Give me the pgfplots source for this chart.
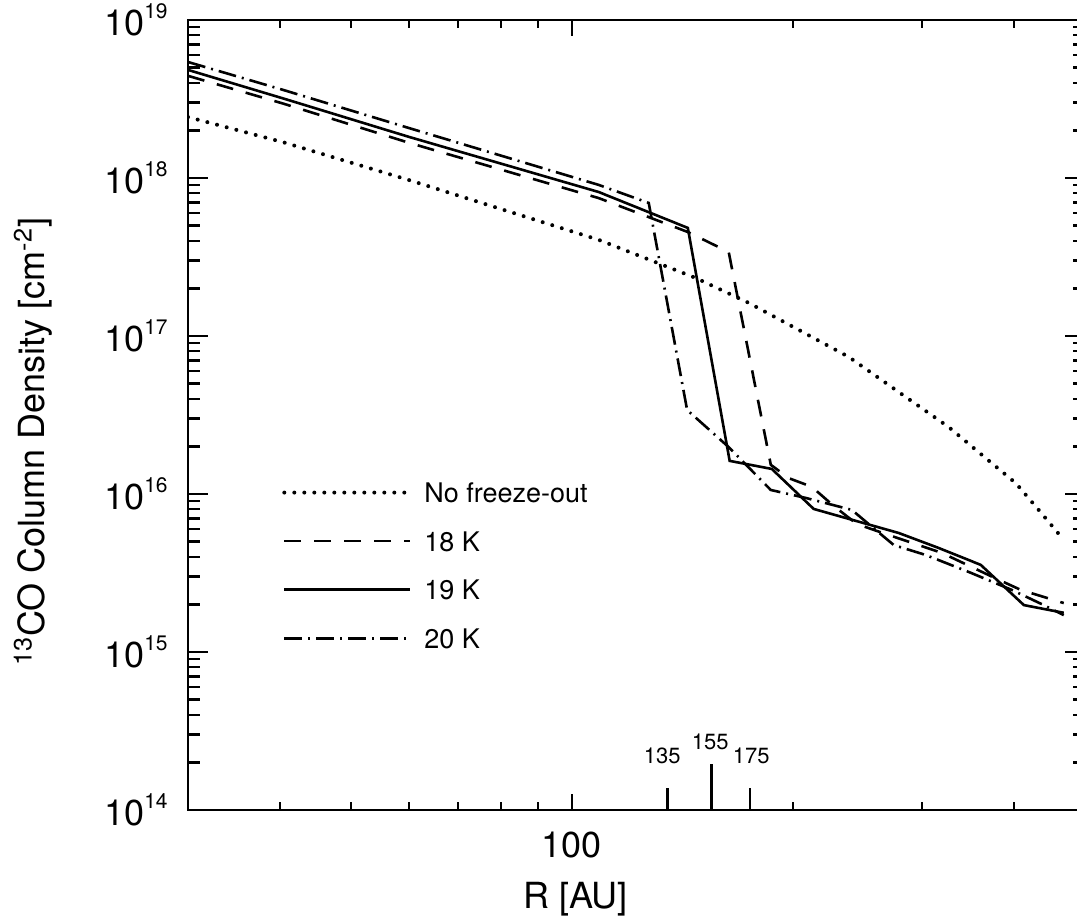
\documentclass[border=0pt]{standalone}
\usepackage{fontspec}
\setmainfont{TeX Gyre Heros}
\usepackage{pgfplots}
\usepackage{pgfplotstable}
\pgfplotsset{compat=1.18}
\newcommand\supx[1]{\raisebox{8.5pt}{\fontsize{10.5}{11}\selectfont #1}}

\pgfplotstableread{
x y
30 2.43e18
40.5 1.68e18
60 9.70e17
108.8 4.06e17
147.5 2.33e17
174.2 1.62e17
238.5 7.36e16
285.1 4.11e16
326.3 2.65e16
361.9 1.77e16
402.7 1.17e16
432.6 7.93e15
468 5.12e15
}\nofreeze

\pgfplotstableread{
x y
30 4.43e18
40.5 2.95e18
60 1.67e18
108.8 7.46e17
143.9 4.55e17
163.6 3.40e17
186.7 1.53e16
197.5 1.26e16
212.3 1.11e16
227.5 8.39e15
244.5 6.46e15
265.3 5.66e15
319.2 4.24e15
377.0 2.94e15
409.1 2.47e15
468 2.04e15
}\eighteen

\pgfplotstableread{
x y
30 4.83e18
40.5 3.18e18
60 1.82e18
108.8 8.15e17
143.9 4.83e17
164.1 1.62e16
187.3 1.44e16
213.6 8.04e15
279.0 5.66e15
316.2 4.55e15
360.7 3.56e15
413.0 1.98e15
468 1.77e15
}\nineteen

\pgfplotstableread{
x y
30 5.42e18
40.5 3.60e18
60 2.07e18
108.8 9.04e17
127.3 6.95e17
143.6 3.40e16
163.6 1.98e16
186.7 1.06e16
208.3 9.44e15
240.7 7.93e15
274.6 4.75e15
303.5 4.11e15
347.4 3.21e15
397.7 2.47e15
439.6 1.98e15
468 1.71e15
}\twenty

\begin{document}
\begin{tikzpicture}
\useasboundingbox (0,0) rectangle (538.5pt,458.5pt);
\clip (0,0) rectangle (538.5pt,458.5pt);
\begin{loglogaxis}[
  at={(94pt,53.5pt)}, anchor=south west,
  scale only axis, width=448.4pt, height=395pt,
  xmin=30, xmax=500, ymin=1e14, ymax=1e19,
  axis line style={line width=1.2pt},
  tick style={line width=1.1pt, black},
  tick align=inside,
  xtick pos=both, ytick pos=both,
  major tick length=10pt, minor tick length=6pt,
  xtick style={/pgfplots/major tick length=8pt, /pgfplots/minor tick length=4pt},
  xtick={100}, xticklabels={100},
  minor xtick={40,50,60,70,80,90,200,300,400},
  ytick={1e14,1e15,1e16,1e17,1e18,1e19},
  yticklabels={10\supx{14},10\supx{15},10\supx{16},10\supx{17},10\supx{18},10\supx{19}},
  minor ytick={2e14,3e14,4e14,5e14,6e14,7e14,8e14,9e14,
               2e15,3e15,4e15,5e15,6e15,7e15,8e15,9e15,
               2e16,3e16,4e16,5e16,6e16,7e16,8e16,9e16,
               2e17,3e17,4e17,5e17,6e17,7e17,8e17,9e17,
               2e18,3e18,4e18,5e18,6e18,7e18,8e18,9e18},
  ticklabel style={font=\fontsize{18}{21}\selectfont},
  xticklabel style={anchor=north, inner sep=0pt, yshift=-11pt},
  yticklabel style={anchor=east, inner sep=0pt, xshift=-10pt},
  xlabel={R [AU]},
  ylabel={\textsuperscript{13}CO Column Density [cm\textsuperscript{-2}]},
  label style={font=\fontsize{18}{21}\selectfont},
  xlabel style={at={(axis description cs:0.432,0)}, anchor=north, inner sep=0pt, yshift=-36pt},
  ylabel style={at={(axis description cs:-0.173,0.466)}, anchor=center, inner sep=0pt},
  legend style={draw=none, fill=none, at={(axis description cs:0.098,0.420)}, anchor=north west,
    font=\fontsize{13.5}{16}\selectfont, nodes={inner sep=0pt, text height=10pt, text depth=0pt},
    row sep=14.3pt, column sep=6pt, cells={anchor=west}},
  legend cell align=left,
  legend image code/.code={\draw[#1] (0pt,0pt) -- (63pt,0pt);},
]
\addplot[black, line width=2pt, line cap=round, dash pattern=on 0pt off 5pt] table {\nofreeze};
\addlegendentry{No freeze-out}
\addplot[black, line width=1.3pt, dash pattern=on 8.5pt off 6.5pt] table {\eighteen};
\addlegendentry{18 K}
\addplot[black, line width=1.3pt] table {\nineteen};
\addlegendentry{19 K}
\addplot[black, line width=1.3pt, dash pattern=on 9pt off 3pt on 1pt off 3pt] table {\twenty};
\addlegendentry{20 K}
\addplot[black, line width=1.1pt, forget plot] coordinates {(135,1e14) (135,1.38e14)};
\addplot[black, line width=1.1pt, forget plot] coordinates {(155,1e14) (155,1.95e14)};
\addplot[black, line width=1.1pt, forget plot] coordinates {(175,1e14) (175,1.38e14)};
\node[font=\fontsize{11}{12}\selectfont, inner sep=0pt] at (axis cs:132.8,2.2e14) {135};
\node[font=\fontsize{11}{12}\selectfont, inner sep=0pt] at (axis cs:154.4,2.69e14) {155};
\node[font=\fontsize{11}{12}\selectfont, inner sep=0pt] at (axis cs:175.6,2.2e14) {175};
\end{loglogaxis}
\end{tikzpicture}
\end{document}
